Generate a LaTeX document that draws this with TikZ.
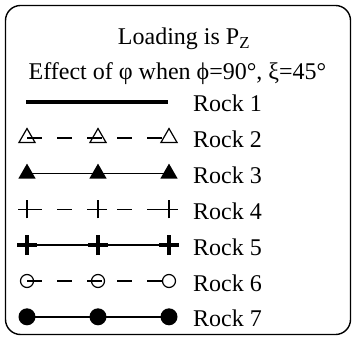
\documentclass[tikz,border=0pt]{standalone}
\usepackage{fontspec}
\setmainfont{Liberation Serif}
\usetikzlibrary{shapes.geometric,shapes.misc}
\tikzset{
  legtext/.style ={font=\fontsize{24}{29}\selectfont, inner sep=0pt},
  legframe/.style={draw, line width=1.4pt, rounded corners=15pt},
  mtri/.style    ={regular polygon, regular polygon sides=3,
                   inner sep=0pt, minimum size=#1},
  opentri/.style ={mtri=18.5pt, draw, line width=1.2pt},
  filltri/.style ={mtri=20pt, fill=black},
  mplus/.style   ={cross out, rotate=45, inner sep=0pt, minimum size=#1},
  thinplus/.style={mplus=11.3pt, draw, line width=1.3pt},
  boldplus/.style={mplus=10.3pt, draw, line width=3.8pt},
  opencirc/.style={circle, draw, inner sep=0pt, minimum size=13pt,
                   line width=1.2pt},
  fillcirc/.style={circle, fill=black, inner sep=0pt, minimum size=17pt},
  boldln/.style  ={line width=3.4pt},
  solidln/.style ={line width=1.6pt},
  dashln/.style  ={line width=1.6pt, dash pattern=on 15pt off 15pt},
}

\begin{document}
\begin{tikzpicture}[x=1pt,y=-1pt]
  \useasboundingbox (0,0) rectangle (352,336);
  \draw[legframe] (5.5,5.5) rectangle (350.5,334.5);

  \node[legtext, anchor=base] (title) at (184,45) {Loading is P\textsubscript{Z}};
  \node[legtext, anchor=base] (sub) at (177.5,80)
        {Effect of φ when ϕ=90°, ξ=45°};

  % Rock 1
  \coordinate (r1a) at (26,102);
  \coordinate (r1b) at (168,102);
  \draw[boldln] (r1a)--(r1b);
  \node[legtext, anchor=base west] (t1) at (193,112) {Rock 1};

  % Rock 2
  \node[opentri] (r2a) at (27,137.8) {};
  \node[opentri] (r2b) at (98,137.8) {};
  \node[opentri] (r2c) at (169,137.8) {};
  \draw[dashln] (r2a.center)--(r2c.center);
  \node[legtext, anchor=base west] (t2) at (193,147.8) {Rock 2};

  % Rock 3
  \node[filltri] (r3a) at (27,173.6) {};
  \node[filltri] (r3b) at (98,173.6) {};
  \node[filltri] (r3c) at (169,173.6) {};
  \draw[solidln] (r3a.center)--(r3c.center);
  \node[legtext, anchor=base west] (t3) at (193,183.6) {Rock 3};

  % Rock 4
  \node[thinplus] (r4a) at (27,209.4) {};
  \node[thinplus] (r4b) at (98,209.4) {};
  \node[thinplus] (r4c) at (169,209.4) {};
  \draw[dashln] (r4a.center)--(r4c.center);
  \node[legtext, anchor=base west] (t4) at (193,219.4) {Rock 4};

  % Rock 5
  \node[boldplus] (r5a) at (27,245.2) {};
  \node[boldplus] (r5b) at (98,245.2) {};
  \node[boldplus] (r5c) at (169,245.2) {};
  \draw[solidln] (r5a.center)--(r5c.center);
  \node[legtext, anchor=base west] (t5) at (193,255.2) {Rock 5};

  % Rock 6
  \node[opencirc] (r6a) at (27,281) {};
  \node[opencirc] (r6b) at (98,281) {};
  \node[opencirc] (r6c) at (169,281) {};
  \draw[dashln] (r6a.center)--(r6c.center);
  \node[legtext, anchor=base west] (t6) at (193,291) {Rock 6};

  % Rock 7
  \node[fillcirc] (r7a) at (27,316.8) {};
  \node[fillcirc] (r7b) at (98,316.8) {};
  \node[fillcirc] (r7c) at (169,316.8) {};
  \draw[solidln] (r7a.center)--(r7c.center);
  \node[legtext, anchor=base west] (t7) at (193,326.8) {Rock 7};
\end{tikzpicture}
\end{document}
